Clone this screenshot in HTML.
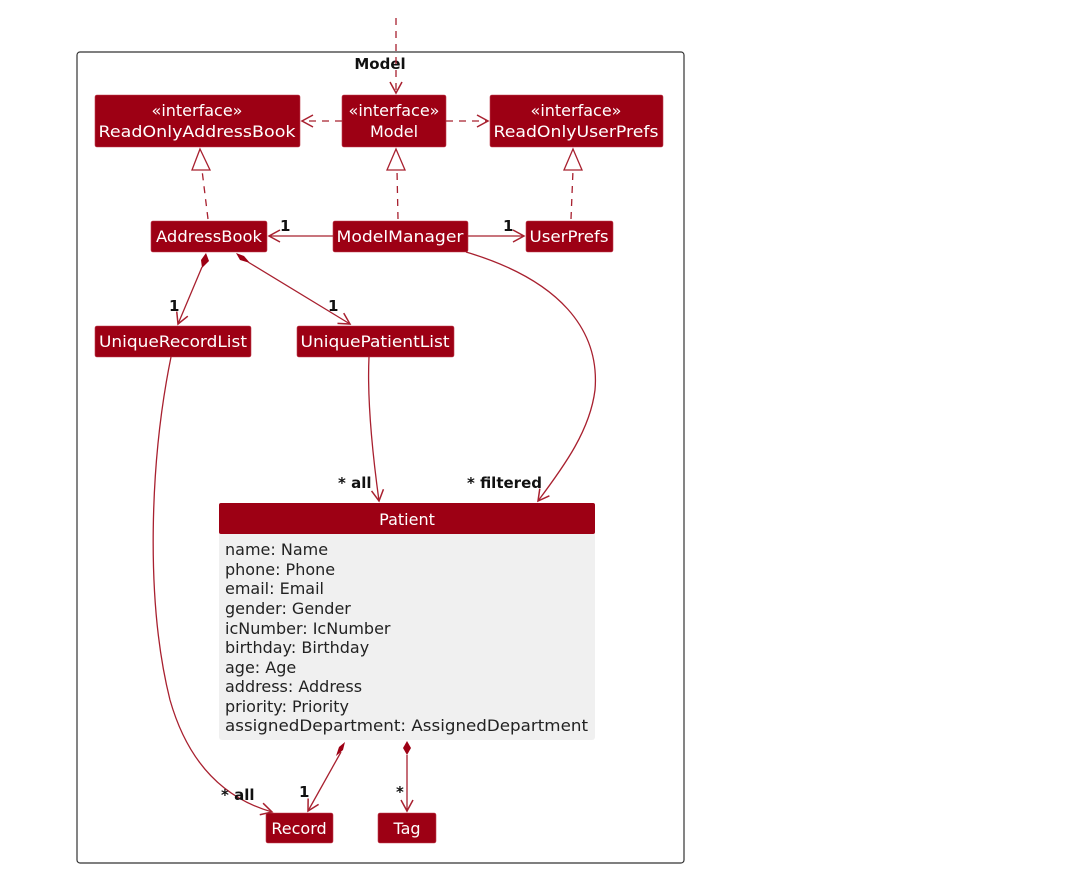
<!DOCTYPE html>
<html><head><meta charset="utf-8"><style>
html,body{margin:0;padding:0;background:#fff;}
svg{display:block;}
text{font-family:"DejaVu Sans","Liberation Sans",sans-serif;}
.w{fill:#fff;font-size:16px;}
.b{fill:#111;font-size:15px;font-weight:bold;}
.a{fill:#222;font-size:16px;}
.l{stroke:#a8202f;stroke-width:1.3;fill:none;}
.d{stroke:#a8202f;stroke-width:1.3;fill:none;stroke-dasharray:7,6;}
.bx{fill:#9d0014;stroke:#c04050;stroke-width:0.6;}
</style></head><body>
<svg width="1085" height="871" viewBox="0 0 1085 871" xmlns="http://www.w3.org/2000/svg">
<defs>
<marker id="ar" markerWidth="14" markerHeight="14" refX="12" refY="7" orient="auto" markerUnits="userSpaceOnUse">
<polyline points="1,1 12,7 1,13" fill="none" stroke="#a8202f" stroke-width="1.5"/></marker>
</defs>
<rect x="77" y="52" width="607" height="811" rx="3" fill="none" stroke="#333" stroke-width="1.2"/>
<text class="b" x="380" y="69" text-anchor="middle">Model</text>
<!-- top dashed -->
<path class="d" d="M396 18 L396 93" marker-end="url(#ar)"/>
<!-- boxes -->
<rect class="bx" x="95" y="95" width="205" height="52" rx="2"/>
<text class="w" x="197" y="116" text-anchor="middle">«interface»</text>
<text class="w" x="197" y="137" text-anchor="middle" textLength="197" lengthAdjust="spacingAndGlyphs">ReadOnlyAddressBook</text>
<rect class="bx" x="342" y="95" width="104" height="52" rx="2"/>
<text class="w" x="394" y="116" text-anchor="middle">«interface»</text>
<text class="w" x="394" y="137" text-anchor="middle">Model</text>
<rect class="bx" x="490" y="95" width="173" height="52" rx="2"/>
<text class="w" x="576" y="116" text-anchor="middle">«interface»</text>
<text class="w" x="576" y="137" text-anchor="middle" textLength="165" lengthAdjust="spacingAndGlyphs">ReadOnlyUserPrefs</text>
<rect class="bx" x="151" y="221" width="116" height="31" rx="2"/>
<text class="w" x="209" y="242" text-anchor="middle" textLength="106" lengthAdjust="spacingAndGlyphs">AddressBook</text>
<rect class="bx" x="333" y="221" width="135" height="31" rx="2"/>
<text class="w" x="400" y="242" text-anchor="middle" textLength="127" lengthAdjust="spacingAndGlyphs">ModelManager</text>
<rect class="bx" x="526" y="221" width="87" height="31" rx="2"/>
<text class="w" x="569" y="242" text-anchor="middle" textLength="79" lengthAdjust="spacingAndGlyphs">UserPrefs</text>
<rect class="bx" x="95" y="326" width="156" height="31" rx="2"/>
<text class="w" x="173" y="347" text-anchor="middle" textLength="148" lengthAdjust="spacingAndGlyphs">UniqueRecordList</text>
<rect class="bx" x="297" y="326" width="157" height="31" rx="2"/>
<text class="w" x="375" y="347" text-anchor="middle" textLength="149" lengthAdjust="spacingAndGlyphs">UniquePatientList</text>
<rect x="219" y="503" width="376" height="237" rx="3" fill="#f0f0f0"/>
<rect x="219" y="503" width="376" height="31" rx="2" fill="#9d0014"/>
<text class="w" x="407" y="525" text-anchor="middle">Patient</text>
<g class="a">
<text x="225" y="555">name: Name</text>
<text x="225" y="575">phone: Phone</text>
<text x="225" y="594">email: Email</text>
<text x="225" y="614">gender: Gender</text>
<text x="225" y="634">icNumber: IcNumber</text>
<text x="225" y="653">birthday: Birthday</text>
<text x="225" y="673">age: Age</text>
<text x="225" y="692">address: Address</text>
<text x="225" y="712">priority: Priority</text>
<text x="225" y="731" textLength="363" lengthAdjust="spacingAndGlyphs">assignedDepartment: AssignedDepartment</text>
</g>
<rect class="bx" x="266" y="813" width="67" height="30" rx="2"/>
<text class="w" x="299" y="834" text-anchor="middle">Record</text>
<rect class="bx" x="378" y="813" width="58" height="30" rx="2"/>
<text class="w" x="407" y="834" text-anchor="middle">Tag</text>
<!-- dependencies -->
<path class="d" d="M342 121 L302 121" marker-end="url(#ar)"/>
<path class="d" d="M446 121 L488 121" marker-end="url(#ar)"/>
<!-- realizations -->
<path class="d" d="M208 219 L202 170"/>
<polygon points="200,149 192,170 210,170" fill="#fff" stroke="#a8202f" stroke-width="1.3"/>
<path class="d" d="M398 219 L397 170"/>
<polygon points="396,149 387,170 405,170" fill="#fff" stroke="#a8202f" stroke-width="1.3"/>
<path class="d" d="M571 219 L573 170"/>
<polygon points="573,149 564,170 582,170" fill="#fff" stroke="#a8202f" stroke-width="1.3"/>
<!-- associations -->
<path class="l" d="M333 236 L269 236" marker-end="url(#ar)"/>
<text class="b" x="280" y="231">1</text>
<path class="l" d="M468 236 L524 236" marker-end="url(#ar)"/>
<text class="b" x="503" y="231">1</text>
<!-- compositions from AddressBook -->
<polygon points="206,253 201,260 202,268 209,261" fill="#9d0014"/>
<path class="l" d="M202 267 L178 324" marker-end="url(#ar)"/>
<text class="b" x="169" y="311">1</text>
<polygon points="236,253 240,260 250,263 244,256" fill="#9d0014"/>
<path class="l" d="M248 262 L350 324" marker-end="url(#ar)"/>
<text class="b" x="328" y="311">1</text>
<!-- UniquePatientList -> Patient -->
<path class="l" d="M369 357 C367 400 372 450 379 501" marker-end="url(#ar)"/>
<text class="b" x="338" y="488">* all</text>
<!-- ModelManager -> Patient filtered -->
<path class="l" d="M466 252 C560 280 600 330 595 390 C590 430 565 465 538 501" marker-end="url(#ar)"/>
<text class="b" x="467" y="488">* filtered</text>
<!-- UniqueRecordList -> Record -->
<path class="l" d="M171 357 C150 460 145 600 170 700 C190 770 230 800 272 812" marker-end="url(#ar)"/>
<text class="b" x="221" y="800">* all</text>
<!-- Patient -> Record -->
<polygon points="345,742 339,747 336,756 343,750" fill="#9d0014"/>
<path class="l" d="M341 752 L308 811" marker-end="url(#ar)"/>
<text class="b" x="299" y="797">1</text>
<polygon points="407,741 403,748 407,755 411,748" fill="#9d0014"/>
<path class="l" d="M407 755 L407 811" marker-end="url(#ar)"/>
<text class="b" x="396" y="797">*</text>
</svg>
</body></html>
